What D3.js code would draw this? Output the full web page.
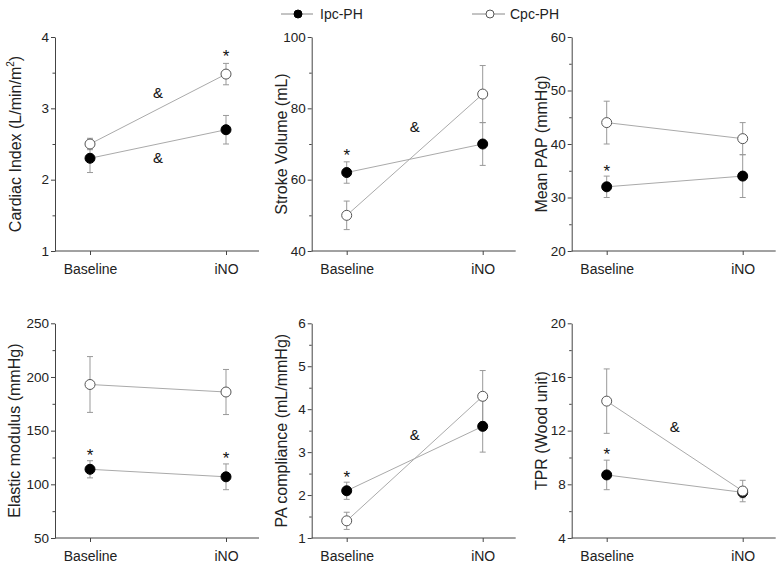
<!DOCTYPE html>
<html>
<head>
<meta charset="utf-8">
<script src="https://cdn.jsdelivr.net/npm/d3@7"></script>
<style>
  body { margin: 0; background: #fff; }
  svg { display: block; font-family: "Liberation Sans", Arial, sans-serif; }
</style>
</head>
<body>
<svg id="chart" width="782" height="565"></svg>
<script>
// ---------- data ----------
const categories = ["Baseline", "iNO"];
const seriesNames = ["Ipc-PH", "Cpc-PH"];
const panelTitles = [
  "Cardiac Index (L/min/m",   // superscript 2 appended
  "Stroke Volume (mL)",
  "Mean PAP (mmHg)",
  "Elastic modulus (mmHg)",
  "PA compliance (mL/mmHg)",
  "TPR (Wood unit)"
];
const yDomains = [[1, 4], [40, 100], [20, 60], [50, 250], [1, 6], [4, 20]];
const yMajorTicks = [
  [1, 2, 3, 4],
  [40, 60, 80, 100],
  [20, 30, 40, 50, 60],
  [50, 100, 150, 200, 250],
  [1, 2, 3, 4, 5, 6],
  [4, 8, 12, 16, 20]
];
const yMinorTicks = [
  [1.5, 2.5, 3.5],
  [50, 70, 90],
  [25, 35, 45, 55],
  [75, 125, 175, 225],
  [1.5, 2.5, 3.5, 4.5, 5.5],
  [6, 10, 14, 18]
];
const ipcMean = [[2.3, 2.7], [62, 70], [32, 34], [114, 107], [2.1, 3.6], [8.7, 7.4]];
const ipcErr  = [[0.2, 0.2], [3, 6], [2, 4], [8, 12], [0.2, 0.6], [1.1, 0.4]];
const cpcMean = [[2.5, 3.48], [50, 84], [44, 41], [193, 186], [1.4, 4.3], [14.2, 7.5]];
const cpcErr  = [[0.08, 0.15], [4, 8], [4, 3], [26, 21], [0.2, 0.6], [2.4, 0.8]];
// annotations: panel index, position ("Baseline", "iNO" or "mid"), value, symbol
const annotations = [
  [0, "iNO", 3.77, "*"], [0, "mid", 3.22, "&"], [0, "mid", 2.31, "&"],
  [1, "Baseline", 67.8, "*"], [1, "mid", 75, "&"],
  [2, "Baseline", 35.6, "*"],
  [3, "Baseline", 130, "*"], [3, "iNO", 127, "*"],
  [4, "Baseline", 2.5, "*"], [4, "mid", 3.4, "&"],
  [5, "Baseline", 10.5, "*"], [5, "mid", 12.3, "&"]
];

// ---------- layout ----------
const colAxisX = [55, 311.7, 571.7];
const axisLen = 204;
const rowRange = [[251, 37], [538, 323.3]];
const titleOffset = [34, 25, 25, 35, 25, 25];

const svg = d3.select("#chart");
const axisColor = "#444";

// legend
const legend = svg.append("g");
[[281, 313, 298, 320, true], [472, 505, 490, 510, false]].forEach((l, i) => {
  legend.append("line").attr("x1", l[0]).attr("x2", l[1]).attr("y1", 14).attr("y2", 14)
    .attr("stroke", "#888").attr("stroke-width", 1);
  legend.append("circle").attr("cx", l[2]).attr("cy", 14).attr("r", 4)
    .attr("fill", l[4] ? "#000" : "#fff").attr("stroke", l[4] ? "#000" : "#555");
  legend.append("text").attr("x", l[3]).attr("y", 19).attr("font-size", 14)
    .attr("fill", "#222").text(seriesNames[i]);
});

for (let p = 0; p < 6; p++) {
  const col = p % 3, row = Math.floor(p / 3);
  const ax = colAxisX[col];
  const y = d3.scaleLinear().domain(yDomains[p]).range(rowRange[row]);
  const x = d3.scalePoint().domain(categories).range([ax + 35, ax + 171]);
  const g = svg.append("g");
  const yBottom = rowRange[row][0];

  // y axis
  const yAx = g.append("g").attr("transform", `translate(${ax},0)`)
    .call(d3.axisLeft(y).tickValues(yMajorTicks[p]).tickSize(4).tickPadding(2).tickSizeOuter(0)
      .tickFormat(d3.format("~g")));
  yAx.select(".domain").attr("stroke", axisColor);
  yAx.selectAll(".tick line").attr("stroke", axisColor);
  yAx.selectAll(".tick text").attr("font-size", 13.5).attr("fill", "#222")
    .attr("font-family", "Liberation Sans, Arial, sans-serif");
  const yMin = g.append("g").attr("transform", `translate(${ax},0)`)
    .call(d3.axisLeft(y).tickValues(yMinorTicks[p]).tickSize(2.5).tickFormat(""));
  yMin.select(".domain").remove();
  yMin.selectAll(".tick line").attr("stroke", axisColor);

  // x axis
  g.append("line").attr("x1", ax).attr("x2", ax + axisLen).attr("y1", yBottom).attr("y2", yBottom)
    .attr("stroke", axisColor);
  const xAx = g.append("g").attr("transform", `translate(0,${yBottom})`)
    .call(d3.axisBottom(x).tickSize(4).tickPadding(9));
  xAx.select(".domain").remove();
  xAx.selectAll(".tick line").attr("stroke", axisColor);
  xAx.selectAll(".tick text").attr("font-size", 14).attr("fill", "#222")
    .attr("font-family", "Liberation Sans, Arial, sans-serif");

  // y title
  const yMid = (rowRange[row][0] + rowRange[row][1]) / 2;
  const t = g.append("text")
    .attr("transform", `translate(${ax - titleOffset[p]},${yMid}) rotate(-90)`)
    .attr("text-anchor", "middle").attr("font-size", 16).attr("fill", "#222")
    .text(panelTitles[p]);
  if (p === 0) {
    t.append("tspan").attr("font-size", 10).attr("dy", -7).text("2");
    t.append("tspan").attr("dy", 7).text(")");
  }

  // series
  const series = [
    { mean: ipcMean[p], err: ipcErr[p], fill: "#000", stroke: "#000" },
    { mean: cpcMean[p], err: cpcErr[p], fill: "#fff", stroke: "#555" }
  ];
  series.forEach(s => {
    const pts = categories.map((c, i) => ({ c, v: s.mean[i], e: s.err[i] }));
    g.append("path").datum(pts)
      .attr("d", d3.line().x(d => x(d.c)).y(d => y(d.v)))
      .attr("fill", "none").attr("stroke", "#aaa").attr("stroke-width", 1);
    const eb = g.append("g").attr("stroke", "#999").attr("stroke-width", 1);
    pts.forEach(d => {
      eb.append("line").attr("x1", x(d.c)).attr("x2", x(d.c))
        .attr("y1", y(d.v - d.e)).attr("y2", y(d.v + d.e));
      [d.v - d.e, d.v + d.e].forEach(v => {
        eb.append("line").attr("x1", x(d.c) - 3).attr("x2", x(d.c) + 3)
          .attr("y1", y(v)).attr("y2", y(v));
      });
    });
  });
  series.forEach(s => {
    g.selectAll(null).data(categories.map((c, i) => ({ c, v: s.mean[i] }))).enter()
      .append("circle").attr("cx", d => x(d.c)).attr("cy", d => y(d.v)).attr("r", 5)
      .attr("fill", s.fill).attr("stroke", s.stroke).attr("stroke-width", 1);
  });

  // annotations
  annotations.filter(a => a[0] === p).forEach(a => {
    const cx = a[1] === "mid" ? (x(categories[0]) + x(categories[1])) / 2 : x(a[1]);
    const isStar = a[3] === "*";
    g.append("text").attr("x", cx).attr("y", y(a[2]) + (isStar ? 9 : 5.5))
      .attr("text-anchor", "middle").attr("font-size", isStar ? 17 : 15)
      .attr("fill", "#111").text(a[3]);
  });
}
</script>
</body>
</html>
